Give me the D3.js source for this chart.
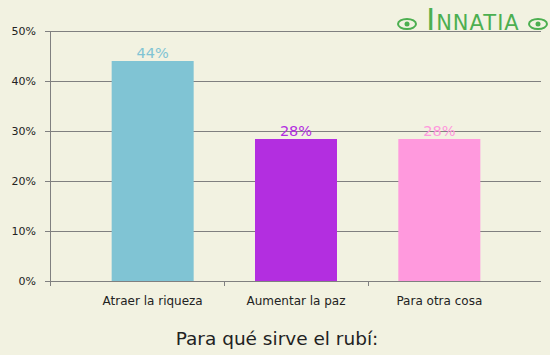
<!DOCTYPE html>
<html>
<head>
<meta charset="utf-8">
<script src="https://cdn.jsdelivr.net/npm/d3@7"></script>
<style>
  body { margin: 0; background: #f2f2e1; }
  svg { display: block; font-family: "DejaVu Sans", sans-serif; }
</style>
</head>
<body>
<svg id="chart"></svg>
<script>
var categories = ["Atraer la riqueza", "Aumentar la paz", "Para otra cosa"];
var values = [44, 28.4, 28.4];
var barColors = ["#80c4d4", "#b32ee0", "#ff99dd"];
var yTicks = [0, 10, 20, 30, 40, 50];
var title = "Para qué sirve el rubí:";

var width = 550, height = 355;
var plotLeft = 50, plotRight = 541, plotTop = 31, plotBottom = 281;

var svg = d3.select("#chart")
  .attr("width", width)
  .attr("height", height);

svg.append("rect")
  .attr("width", width)
  .attr("height", height)
  .attr("fill", "#f2f2e1");

var y = d3.scaleLinear().domain([0, 50]).range([plotBottom, plotTop]);

// categories sit in a slightly narrower band than the grid
var x = d3.scaleBand().domain(categories).range([81, 511]);

// gridlines
svg.append("g")
  .selectAll("line")
  .data(yTicks)
  .enter().append("line")
    .attr("x1", plotLeft - 5)
    .attr("x2", plotRight)
    .attr("y1", function(d) { return Math.round(y(d)) + 0.5; })
    .attr("y2", function(d) { return Math.round(y(d)) + 0.5; })
    .attr("stroke", "#808080")
    .attr("stroke-width", 1);

// y axis line
svg.append("line")
  .attr("x1", plotLeft + 0.5).attr("x2", plotLeft + 0.5)
  .attr("y1", plotTop).attr("y2", plotBottom + 5)
  .attr("stroke", "#808080");

// y tick labels
svg.append("g")
  .selectAll("text")
  .data(yTicks)
  .enter().append("text")
    .attr("x", 36)
    .attr("y", function(d) { return y(d) + 4; })
    .attr("text-anchor", "end")
    .attr("font-size", 11)
    .attr("fill", "#222")
    .text(function(d) { return d + "%"; });

// bars
var barW = 82;
svg.append("g")
  .selectAll("rect")
  .data(values)
  .enter().append("rect")
    .attr("x", function(d, i) { return x(categories[i]) + x.bandwidth() / 2 - barW / 2; })
    .attr("y", function(d) { return y(d); })
    .attr("width", barW)
    .attr("height", function(d) { return plotBottom - y(d); })
    .attr("fill", function(d, i) { return barColors[i]; });

// category separator ticks
svg.append("g")
  .selectAll("line")
  .data(categories.slice(1))
  .enter().append("line")
    .attr("x1", function(d) { return Math.round(x(d)) + 0.5; })
    .attr("x2", function(d) { return Math.round(x(d)) + 0.5; })
    .attr("y1", plotBottom)
    .attr("y2", plotBottom + 5)
    .attr("stroke", "#808080");

// value labels
svg.append("g")
  .selectAll("text")
  .data(values)
  .enter().append("text")
    .attr("x", function(d, i) { return x(categories[i]) + x.bandwidth() / 2; })
    .attr("y", function(d) { return y(d) - 3; })
    .attr("text-anchor", "middle")
    .attr("font-size", 14.5)
    .attr("fill", function(d, i) { return barColors[i]; })
    .text(function(d) { return Math.round(d) + "%"; });

// category labels
svg.append("g")
  .selectAll("text")
  .data(categories)
  .enter().append("text")
    .attr("x", function(d) { return x(d) + x.bandwidth() / 2; })
    .attr("y", 305)
    .attr("text-anchor", "middle")
    .attr("font-size", 12)
    .attr("fill", "#222")
    .text(function(d) { return d; });

// title
svg.append("text")
  .attr("x", 277)
  .attr("y", 345)
  .attr("text-anchor", "middle")
  .attr("font-size", 18.5)
  .attr("fill", "#222")
  .text(title);

// logo
var logo = svg.append("g").attr("fill", "#4caf50");
logo.append("text")
  .attr("x", 473).attr("y", 30)
  .attr("text-anchor", "middle")
  .attr("font-family", "'DejaVu Sans', sans-serif")
  .attr("font-size", 21)
  .attr("letter-spacing", 1)
  .html('<tspan font-size="30">I</tspan>NNATIA');
[[407, 24], [538, 24]].forEach(function(p) {
  logo.append("ellipse")
    .attr("cx", p[0]).attr("cy", p[1]).attr("rx", 9).attr("ry", 5)
    .attr("fill", "none").attr("stroke", "#4caf50").attr("stroke-width", 2);
  logo.append("circle").attr("cx", p[0]).attr("cy", p[1]).attr("r", 2.5);
});
</script>
</body>
</html>
